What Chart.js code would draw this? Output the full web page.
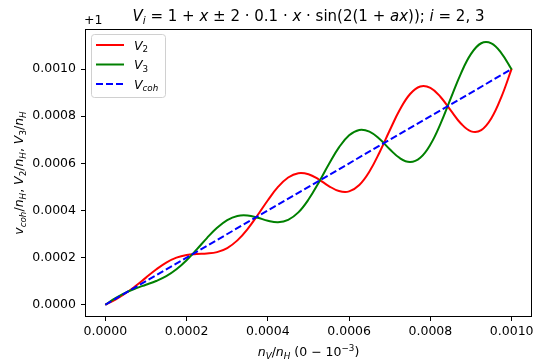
<meta charset="UTF-8">
<title>V_i</title>
<script src="https://cdn.jsdelivr.net/npm/chart.js"></script>
<style>body{margin:0;background:#fff}</style>
<body>
<canvas id="chart" width="544" height="363"></canvas>
<script>
// n_V/n_H sample positions
var xVals = [0, 0.000025, 0.00005, 0.000075, 0.0001, 0.000125, 0.00015, 0.000175, 0.0002, 0.000225,
    0.00025, 0.000275, 0.0003, 0.000325, 0.00035, 0.000375, 0.0004, 0.000425, 0.00045, 0.000475,
    0.0005, 0.000525, 0.00055, 0.000575, 0.0006, 0.000625, 0.00065, 0.000675, 0.0007, 0.000725,
    0.00075, 0.000775, 0.0008, 0.000825, 0.00085, 0.000875, 0.0009, 0.000925, 0.00095, 0.000975, 0.001];
// offsets from 1 (axis shows "+1")
var v2Vals = [0, 0.0000220, 0.0000486, 0.0000803, 0.0001151, 0.0001494, 0.0001788, 0.0001997, 0.0002112, 0.0002153,
    0.0002172, 0.0002234, 0.0002406, 0.0002731, 0.0003212, 0.0003806, 0.0004435, 0.0004998, 0.0005400, 0.0005582,
    0.0005537, 0.0005320, 0.0005038, 0.0004825, 0.0004811, 0.0005081, 0.0005654, 0.0006471, 0.0007403, 0.0008282,
    0.0008942, 0.0009262, 0.0009202, 0.0008815, 0.0008245, 0.0007690, 0.0007357, 0.0007406, 0.0007911, 0.0008831, 0.0010018];
var v3Vals = [0, 0.0000280, 0.0000514, 0.0000697, 0.0000849, 0.0001006, 0.0001212, 0.0001503, 0.0001888, 0.0002347,
    0.0002829, 0.0003266, 0.0003594, 0.0003769, 0.0003788, 0.0003694, 0.0003565, 0.0003502, 0.0003600, 0.0003918,
    0.0004464, 0.0005180, 0.0005962, 0.0006675, 0.0007189, 0.0007419, 0.0007346, 0.0007029, 0.0006597, 0.0006218,
    0.0006058, 0.0006238, 0.0006798, 0.0007685, 0.0008755, 0.0009810, 0.0010643, 0.0011095, 0.0011089, 0.0010669, 0.0009982];
var cohX = [0, 0.001];
var cohVals = [0, 0.001];
var xTicks = [0, 0.0002, 0.0004, 0.0006, 0.0008, 0.001];
var yTicks = [0, 0.0002, 0.0004, 0.0006, 0.0008, 0.001];

var FONT = '"DejaVu Sans", sans-serif';

function pts(xs, ys){
    return xs.map(function(x, i){ return {x: x, y: ys[i]}; });
}

// draws math-like text: kind r=roman, i=italic, sr/si=subscript, sup=superscript
function segFont(kind, size){
    var s = (kind == 'sr' || kind == 'si' || kind == 'sup') ? size*0.7 : size;
    var it = (kind == 'i' || kind == 'si') ? 'italic ' : '';
    return it + s + 'px ' + FONT;
}
function richWidth(ctx, segs, size){
    var w = 0;
    segs.forEach(function(s){ ctx.font = segFont(s[1], size); w += ctx.measureText(s[0]).width; });
    return w;
}
function drawRich(ctx, segs, x, y, size, align){
    var w = richWidth(ctx, segs, size);
    var cx = align == 'center' ? x - w/2 : x;
    ctx.textAlign = 'left';
    ctx.textBaseline = 'alphabetic';
    ctx.fillStyle = '#000';
    segs.forEach(function(s){
        ctx.font = segFont(s[1], size);
        var dy = 0;
        if (s[1] == 'sr' || s[1] == 'si') dy = size*0.22;
        if (s[1] == 'sup') dy = -size*0.42;
        ctx.fillText(s[0], cx, y + dy);
        cx += ctx.measureText(s[0]).width;
    });
}

var decor = {
    id: 'decor',
    afterDraw: function(chart){
        var ctx = chart.ctx, a = chart.chartArea;
        ctx.save();
        ctx.strokeStyle = '#000';
        ctx.lineWidth = 1;
        ctx.strokeRect(Math.round(a.left)+0.5, Math.round(a.top)+0.5, Math.round(a.right-a.left)-1, Math.round(a.bottom-a.top)-1);

        var mid = (a.left + a.right)/2;
        drawRich(ctx, [['V','i'],['i','si'],[' = 1 + ','r'],['x','i'],[' \u00b1 2 \u00b7 0.1 \u00b7 ','r'],['x','i'],
            [' \u00b7 sin(2(1 + ','r'],['ax','i'],[')); ','r'],['i','i'],[' = 2, 3','r']], mid, 21, 15, 'center');
        drawRich(ctx, [['+1','r']], a.left-1, 24, 12.5, 'left');
        drawRich(ctx, [['n','i'],['V','si'],['/','r'],['n','i'],['H','si'],[' (0 \u2212 10','r'],['\u22123','sup'],[')','r']],
            mid, 356, 12.5, 'center');

        ctx.save();
        ctx.translate(23, (a.top + a.bottom)/2);
        ctx.rotate(-Math.PI/2);
        drawRich(ctx, [['v','i'],['coh','si'],['/','r'],['n','i'],['H','si'],[', ','r'],['V','i'],['2','sr'],['/','r'],
            ['n','i'],['H','si'],[', ','r'],['V','i'],['3','sr'],['/','r'],['n','i'],['H','si']], 0, 0, 12.5, 'center');
        ctx.restore();

        // legend
        ctx.fillStyle = 'rgba(255,255,255,0.8)';
        ctx.strokeStyle = '#d0d0d0';
        ctx.beginPath();
        ctx.roundRect(91.5, 34.5, 74, 63, 3);
        ctx.fill();
        ctx.stroke();
        var rows = [
            {c: '#ff0000', d: [], y: 45, t: [['V','i'],['2','sr']]},
            {c: '#008000', d: [], y: 64.5, t: [['V','i'],['3','sr']]},
            {c: '#0000ff', d: [7,3], y: 84, t: [['V','i'],['coh','si']]}
        ];
        rows.forEach(function(r){
            ctx.strokeStyle = r.c;
            ctx.lineWidth = 2;
            ctx.setLineDash(r.d);
            ctx.beginPath();
            ctx.moveTo(96, r.y);
            ctx.lineTo(124, r.y);
            ctx.stroke();
            ctx.setLineDash([]);
            drawRich(ctx, r.t, 134, r.y + 4.5, 12.5, 'left');
        });
        ctx.restore();
    }
};

var tickFont = {family: FONT, size: 12.5};

new Chart(document.getElementById('chart').getContext('2d'), {
    type: 'line',
    data: {
        datasets: [{
            label: 'V2',
            data: pts(xVals, v2Vals),
            borderColor: '#ff0000',
            borderWidth: 2,
            pointRadius: 0,
            tension: 0.4,
            order: 3
        }, {
            label: 'V3',
            data: pts(xVals, v3Vals),
            borderColor: '#008000',
            borderWidth: 2,
            pointRadius: 0,
            tension: 0.4,
            order: 2
        }, {
            label: 'Vcoh',
            data: pts(cohX, cohVals),
            borderColor: '#0000ff',
            borderWidth: 2,
            borderDash: [7, 3],
            pointRadius: 0,
            order: 1
        }]
    },
    options: {
        responsive: false,
        animation: false,
        devicePixelRatio: 1,
        layout: {padding: {left: 0, top: 29, right: 12, bottom: 0}},
        plugins: {legend: {display: false}, tooltip: {enabled: false}, title: {display: false}},
        scales: {
            x: {
                type: 'linear',
                min: -0.00005,
                max: 0.00105,
                afterBuildTicks: function(s){ s.ticks = xTicks.map(function(v){ return {value: v}; }); },
                afterFit: function(s){ s.height = 46; },
                ticks: {callback: function(v){ return v.toFixed(4); }, font: tickFont, color: '#000', padding: 3, maxRotation: 0, autoSkip: false},
                grid: {display: true, drawOnChartArea: false, tickLength: 4, tickColor: '#000'},
                border: {display: false}
            },
            y: {
                min: -0.000052,
                max: 0.00117,
                afterBuildTicks: function(s){ s.ticks = yTicks.map(function(v){ return {value: v}; }); },
                afterFit: function(s){ s.width = 85; },
                ticks: {callback: function(v){ return v.toFixed(4); }, font: tickFont, color: '#000', padding: 5, autoSkip: false},
                grid: {display: true, drawOnChartArea: false, tickLength: 4, tickColor: '#000'},
                border: {display: false}
            }
        }
    },
    plugins: [decor]
});
</script>
</body>
